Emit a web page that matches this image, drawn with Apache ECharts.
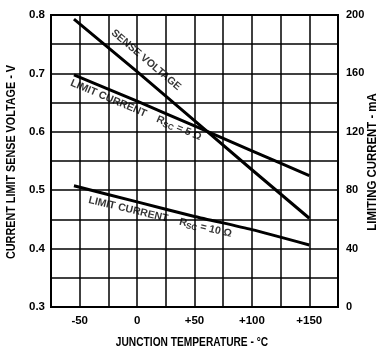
<!DOCTYPE html>
<html><head><meta charset="utf-8">
<script src="https://cdn.jsdelivr.net/npm/echarts@6/dist/echarts.min.js"></script>
<style>html,body{margin:0;padding:0;background:#fff}#c{width:380px;height:354px}</style>
</head><body><div id="c"></div>
<script>
// Junction temperature (°C)
const tempsSense = [-55, 0, 50, 100, 150];
const senseVoltage = [0.793, 0.703, 0.619, 0.535, 0.452];      // V (left axis)
const tempsI5 = [-55, 0, 50, 100, 150];
const limitCurrent5 = [159, 141, 124, 107, 90];                 // mA (right axis)
const tempsI10 = [-55, 0, 50, 100, 150];
const limitCurrent10 = [83, 72, 62, 53, 42.5];                  // mA (right axis)
const xTickLabels = {'-50':'-50','0':'0','50':'+50','100':'+100','150':'+150'};
const leftTickLabels = ['0.3','0.4','0.5','0.6','0.7','0.8'];
const rightTickLabels = ['0','40','80','120','160','200'];
const xTitle = 'JUNCTION TEMPERATURE - °C';
const leftTitle = 'CURRENT LIMIT SENSE VOLTAGE - V';
const rightTitle = 'LIMITING CURRENT - mA';
// annotation anchors (data coordinates)
const senseLabelAt = [7.75, 0.723];
const i5LabelAt = [-1, 134.9];
const i10LabelAt = [20, 61.6];

const FONT = '"Liberation Sans", Arial, sans-serif';
const lineStyle = {color:'#000', width:3};
const chart = echarts.init(document.getElementById('c'));
const pair = (xs, ys) => xs.map((x,i)=>[x, ys[i]]);
const rich = {
  n:{fontFamily:FONT,fontSize:10.5,fontWeight:'bold',color:'#000'},
  s:{fontFamily:FONT,fontSize:8,fontWeight:'bold',color:'#000',padding:[5,0,0,0]}
};
const tick = {fontFamily:FONT,fontSize:11.5,fontWeight:'bold',color:'#000'};
const tickR = {fontFamily:FONT,fontSize:11,fontWeight:'bold',color:'#000'};
const titleStyle = {fontFamily:FONT,fontSize:12,fontWeight:'bold',fill:'#000',align:'center',verticalAlign:'middle'};
chart.setOption({
  backgroundColor:'#fff',
  animation:false,
  grid:{left:51,right:42,top:15,bottom:47,show:true,borderColor:'#000',borderWidth:2,backgroundColor:'transparent'},
  xAxis:{type:'value',min:-75,max:175,interval:25,
    axisLine:{onZero:false,lineStyle:{color:'#000',width:2}},axisTick:{show:false},
    splitLine:{lineStyle:{color:'#000',width:1.5}},
    axisLabel:Object.assign({margin:8,formatter:v=>xTickLabels[String(v)]||''},tick)},
  yAxis:[
    {type:'value',min:0.3,max:0.8,interval:0.05,position:'left',
     axisLine:{show:true,onZero:false,lineStyle:{color:'#000',width:2}},axisTick:{show:false},
     splitLine:{lineStyle:{color:'#000',width:1.5}},
     axisLabel:Object.assign({margin:6,
       formatter:v=>{const t=(Math.round(v*100)/100).toFixed(1);return Math.round(v*100)%10===0 && leftTickLabels.includes(t)?t:'';}},tick)},
    {type:'value',min:0,max:200,interval:20,position:'right',
     axisLine:{show:true,onZero:false,lineStyle:{color:'#000',width:2}},axisTick:{show:false},
     splitLine:{show:false},
     axisLabel:Object.assign({margin:8,
       formatter:v=>rightTickLabels.includes(String(v))?String(v):''},tickR)}
  ],
  graphic:[
    {type:'text',position:[192,343],scaleX:0.85,style:Object.assign({text:xTitle},titleStyle)},
    {type:'text',position:[12,162],rotation:Math.PI/2,scaleX:0.9,style:Object.assign({text:leftTitle},titleStyle)},
    {type:'text',position:[373,162],rotation:Math.PI/2,scaleX:0.95,style:Object.assign({text:rightTitle},titleStyle)}
  ],
  series:[
    {type:'line',yAxisIndex:0,data:pair(tempsSense,senseVoltage),symbol:'none',lineStyle,z:5},
    {type:'line',yAxisIndex:1,data:pair(tempsI5,limitCurrent5),symbol:'none',lineStyle,smooth:0.2,z:5},
    {type:'line',yAxisIndex:1,data:pair(tempsI10,limitCurrent10),symbol:'none',lineStyle,smooth:0.2,z:5},
    {type:'scatter',yAxisIndex:0,symbolSize:0,z:6,data:[senseLabelAt],
     label:{show:true,position:'inside',rotate:-40.5,formatter:'SENSE VOLTAGE',
       fontFamily:FONT,fontSize:10.5,fontWeight:'bold',color:'#000'}},
    {type:'scatter',yAxisIndex:1,symbolSize:0,z:6,data:[i5LabelAt],
     label:{show:true,position:'inside',rotate:-23,formatter:'{n|LIMIT CURRENT    R}{s|SC}{n| = 5 Ω}',rich}},
    {type:'scatter',yAxisIndex:1,symbolSize:0,z:6,data:[i10LabelAt],
     label:{show:true,position:'inside',rotate:-13.5,formatter:'{n|LIMIT CURRENT    R}{s|SC}{n| = 10 Ω}',rich}}
  ]
});
</script></body></html>
